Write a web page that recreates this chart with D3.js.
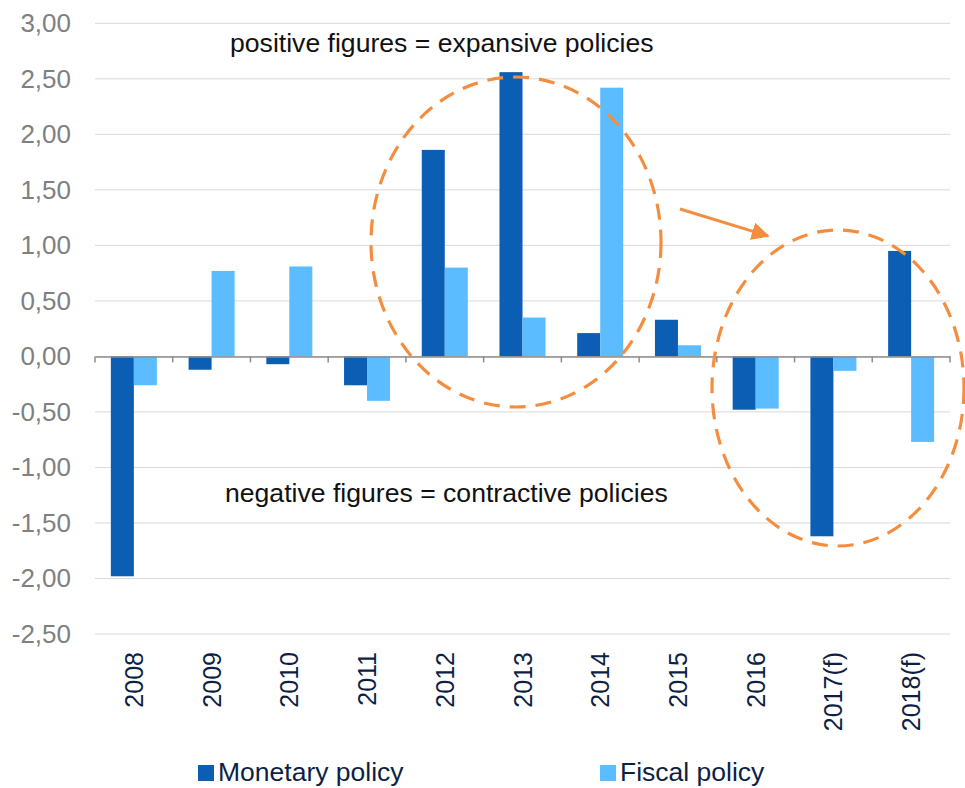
<!DOCTYPE html>
<html>
<head>
<meta charset="utf-8">
<script src="https://cdn.jsdelivr.net/npm/d3@7"></script>
<style>
  body { margin: 0; background: #fff; }
  text { font-family: "Liberation Sans", Arial, sans-serif; }
</style>
</head>
<body>
<script>
var years = ['2008', '2009', '2010', '2011', '2012', '2013', '2014', '2015', '2016', '2017(f)', '2018(f)'];
var monetary = [-1.98, -0.12, -0.07, -0.26, 1.86, 2.56, 0.21, 0.33, -0.48, -1.62, 0.95];
var fiscal = [-0.26, 0.77, 0.81, -0.40, 0.80, 0.35, 2.42, 0.10, -0.47, -0.13, -0.77];
var seriesNames = ['Monetary policy', 'Fiscal policy'];
var yTicks = [3, 2.5, 2, 1.5, 1, 0.5, 0, -0.5, -1, -1.5, -2, -2.5];

var colors = ['#0b5eb4', '#5bbcff'];
var orange = '#f58d3e';

var width = 965, height = 788;
var plotLeft = 95, plotRight = 950, plotTop = 23.3, plotBottom = 634;

var svg = d3.select('body').append('svg')
    .attr('width', width)
    .attr('height', height);

var x = d3.scaleBand()
    .domain(years)
    .range([plotLeft, plotRight])
    .padding(0);

var y = d3.scaleLinear()
    .domain([-2.5, 3])
    .range([plotBottom, plotTop]);

var groupW = x.bandwidth() * 0.592;
var x1 = d3.scaleBand()
    .domain(seriesNames)
    .range([0, groupW])
    .padding(0);

// grid lines
svg.append('g')
    .selectAll('line')
    .data(yTicks)
    .enter().append('line')
    .attr('x1', plotLeft)
    .attr('x2', plotRight)
    .attr('y1', function(d) { return y(d); })
    .attr('y2', function(d) { return y(d); })
    .attr('stroke', '#d9d9d9')
    .attr('stroke-width', 1);

// y axis labels
var yAxis = d3.axisLeft(y)
    .tickValues(yTicks)
    .tickSize(0)
    .tickPadding(24)
    .tickFormat(function(d) { return d3.format('.2f')(d).replace('.', ',').replace('−', '-'); });

var ya = svg.append('g')
    .attr('transform', 'translate(' + plotLeft + ',0)')
    .call(yAxis);
ya.select('.domain').remove();
ya.selectAll('text')
    .attr('fill', '#808080')
    .style('font-size', '26px');

// bars
var rows = years.map(function(yr, i) {
  return { year: yr, values: [monetary[i], fiscal[i]] };
});

var groups = svg.append('g')
    .selectAll('g')
    .data(rows)
    .enter().append('g')
    .attr('transform', function(d) {
      return 'translate(' + (x(d.year) + (x.bandwidth() - groupW) / 2) + ',0)';
    });

groups.selectAll('rect')
    .data(function(d) { return d.values.map(function(v, j) { return { name: seriesNames[j], v: v, j: j }; }); })
    .enter().append('rect')
    .attr('x', function(d) { return x1(d.name); })
    .attr('width', x1.bandwidth())
    .attr('y', function(d) { return y(Math.max(0, d.v)); })
    .attr('height', function(d) { return Math.abs(y(d.v) - y(0)); })
    .attr('fill', function(d) { return colors[d.j]; });

// zero axis with ticks between categories
var xAxis = d3.axisBottom(x)
    .tickSize(0)
    .tickFormat('');
var xa = svg.append('g')
    .attr('transform', 'translate(0,' + y(0) + ')')
    .call(xAxis);
xa.select('.domain').attr('stroke', '#8c8c8c').attr('stroke-width', 1.5);
xa.selectAll('.tick').remove();
xa.selectAll('.cat-tick')
    .data(d3.range(years.length + 1))
    .enter().append('line')
    .attr('x1', function(i) { return plotLeft + i * x.step(); })
    .attr('x2', function(i) { return plotLeft + i * x.step(); })
    .attr('y1', 0)
    .attr('y2', 6)
    .attr('stroke', '#8c8c8c')
    .attr('stroke-width', 1.5);

// category labels, rotated
svg.append('g')
    .selectAll('text')
    .data(years)
    .enter().append('text')
    .attr('transform', function(d) {
      return 'translate(' + (x(d) + x.bandwidth() / 2 + 9) + ',652) rotate(-90)';
    })
    .attr('text-anchor', 'end')
    .attr('fill', '#0e1f45')
    .style('font-size', '25px')
    .text(function(d) { return d; });

// legend
var legendX = [198, 600];
var legend = svg.append('g')
    .selectAll('g')
    .data(seriesNames)
    .enter().append('g')
    .attr('transform', function(d, i) { return 'translate(' + legendX[i] + ',765)'; });
legend.append('rect')
    .attr('width', 16)
    .attr('height', 16)
    .attr('fill', function(d, i) { return colors[i]; });
legend.append('text')
    .attr('x', 20)
    .attr('y', 16)
    .attr('fill', '#0e1f45')
    .style('font-size', '26.5px')
    .text(function(d) { return d; });

// annotations
svg.append('text')
    .attr('x', 230)
    .attr('y', 52)
    .attr('fill', '#111')
    .style('font-size', '26.6px')
    .text('positive figures = expansive policies');

svg.append('text')
    .attr('x', 225)
    .attr('y', 502)
    .attr('fill', '#111')
    .style('font-size', '26.6px')
    .text('negative figures = contractive policies');

// dashed ellipses
var ellipses = [
  { cx: 516, cy: 242, rx: 145, ry: 165 },
  { cx: 838, cy: 388, rx: 126, ry: 158 }
];
svg.append('g')
    .selectAll('ellipse')
    .data(ellipses)
    .enter().append('ellipse')
    .attr('cx', function(d) { return d.cx; })
    .attr('cy', function(d) { return d.cy; })
    .attr('rx', function(d) { return d.rx; })
    .attr('ry', function(d) { return d.ry; })
    .attr('fill', 'none')
    .attr('stroke', orange)
    .attr('stroke-width', 3.2)
    .attr('stroke-dasharray', '16,10');

// arrow
svg.append('defs').append('marker')
    .attr('id', 'head')
    .attr('viewBox', '0 0 10 10')
    .attr('refX', 9)
    .attr('refY', 5)
    .attr('markerWidth', 6)
    .attr('markerHeight', 6)
    .attr('orient', 'auto')
    .append('path')
    .attr('d', 'M0,0 L10,5 L0,10 z')
    .attr('fill', orange);

svg.append('line')
    .attr('x1', 680)
    .attr('y1', 209)
    .attr('x2', 768)
    .attr('y2', 236)
    .attr('stroke', orange)
    .attr('stroke-width', 3)
    .attr('marker-end', 'url(#head)');
</script>
</body>
</html>
